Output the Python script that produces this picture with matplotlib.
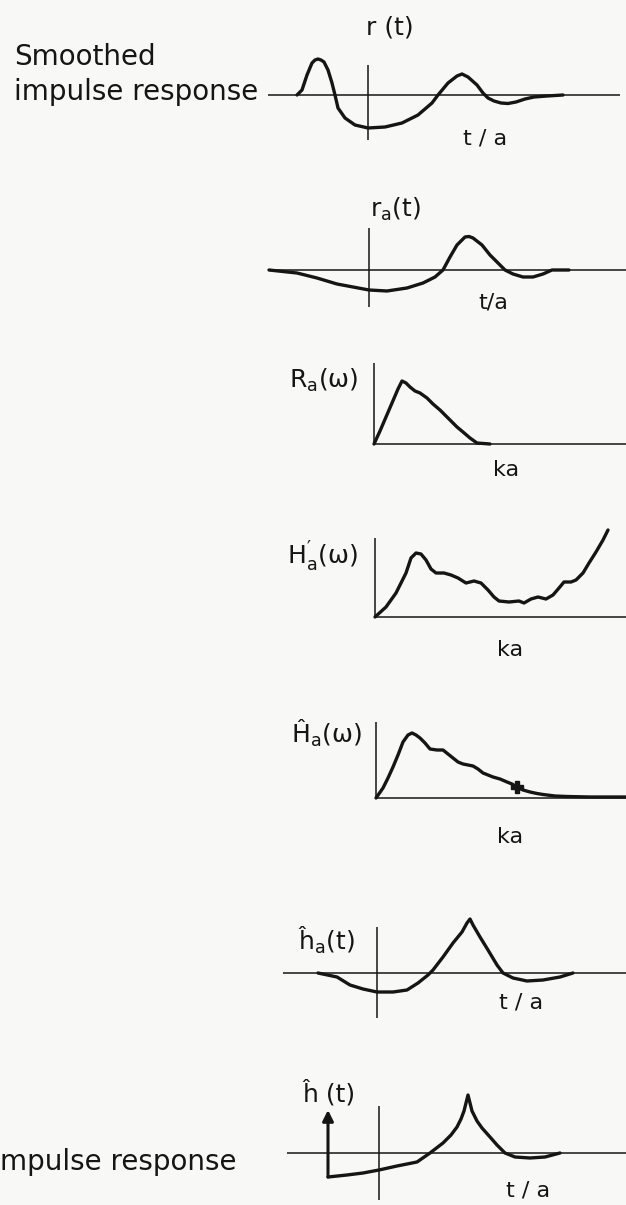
import matplotlib.pyplot as plt

plt.rcParams['font.family'] = ['DejaVu Sans']
plt.rcParams['mathtext.default'] = 'regular'

W, H = 626, 1205
PX = 10  # pixels per data unit on every panel
INK = '#151515'

# smoothed impulse response r(t)
R_T = [-7.1, -6.6, -6.1, -5.6, -5.3, -5.0, -4.7, -4.4, -4.0, -3.6, -3.3, -3.0,
       -2.3, -1.3, 0, 1.7, 3.4, 5.0, 6.4, 7.0, 8.0, 8.9, 9.4, 10.0, 10.9, 11.5,
       12.0, 12.6, 13.3, 14.0, 14.8, 15.7, 16.6, 17.9, 19.5]
R_VAL = [0, 0.5, 2.0, 3.2, 3.5, 3.6, 3.5, 3.3, 2.5, 1.2, 0, -1.3, -2.3, -3.0,
         -3.3, -3.2, -2.8, -2.0, -0.8, 0, 1.2, 1.9, 2.1, 1.8, 1.0, 0.2, -0.3,
         -0.6, -0.8, -0.85, -0.7, -0.4, -0.2, -0.1, 0]

# r_a(t)
RA_T = [-10.0, -7.2, -5.2, -3.2, -1.6, 0, 1.8, 3.8, 5.4, 6.6, 7.4, 8.1, 8.8,
        9.6, 10.0, 10.4, 11.3, 12.1, 12.9, 13.6, 14.4, 15.4, 16.4, 17.4, 18.3,
        20.0]
RA_VAL = [0, -0.3, -0.8, -1.4, -1.7, -2.0, -2.1, -1.8, -1.3, -0.7, 0, 1.3, 2.5,
          3.3, 3.35, 3.2, 2.5, 1.5, 0.7, 0, -0.4, -0.7, -0.7, -0.4, 0, 0]

# R_a(w) against ka
RW_K = [0, 0.6, 1.2, 1.8, 2.4, 2.8, 3.2, 3.6, 4.1, 4.6, 5.3, 5.9, 6.6, 7.2,
        7.8, 8.3, 8.9, 9.6, 10.3, 11.6]
RW_VAL = [0, 1.3, 2.7, 4.1, 5.5, 6.3, 6.1, 5.7, 5.3, 5.1, 4.6, 4.0, 3.4, 2.8,
          2.2, 1.7, 1.2, 0.6, 0.1, 0]

# H'_a(w)
HP_K = [0, 1.1, 2.1, 3.1, 3.6, 4.1, 4.6, 5.1, 5.6, 6.1, 6.9, 7.6, 8.3, 9.1,
        9.9, 10.6, 11.3, 11.9, 12.4, 13.4, 14.4, 14.9, 15.6, 16.3, 17.1, 17.8,
        18.4, 18.9, 19.6, 20.1, 20.8, 21.4, 22.1, 22.8, 23.3]
HP_VAL = [0, 1.0, 2.4, 4.4, 5.9, 6.4, 6.3, 5.7, 4.8, 4.4, 4.4, 4.2, 3.9, 3.4,
          3.6, 3.4, 2.7, 2.0, 1.6, 1.5, 1.6, 1.4, 1.8, 2.0, 1.8, 2.2, 2.9, 3.5,
          3.5, 3.7, 4.4, 5.4, 6.5, 7.7, 8.7]

# H^_a(w), with the marked point on its tail
HH_K = [0, 0.7, 1.2, 1.7, 2.2, 2.7, 3.2, 3.6, 4.0, 4.4, 4.9, 5.4, 6.1, 6.7,
        7.2, 7.7, 8.2, 8.7, 9.2, 9.7, 10.2, 10.7, 11.2, 11.7, 12.4, 13.1, 13.6,
        14.1, 14.7, 15.4, 16.1, 16.7, 17.9, 19.1, 21.4, 25.0]
HH_VAL = [0, 1.0, 2.0, 3.1, 4.3, 5.6, 6.3, 6.5, 6.3, 6.0, 5.5, 4.9, 4.8, 4.8,
          4.4, 4.0, 3.6, 3.4, 3.3, 3.2, 2.9, 2.5, 2.3, 2.1, 1.9, 1.6, 1.4, 1.1,
          0.8, 0.6, 0.45, 0.35, 0.2, 0.15, 0.1, 0.1]
HH_MARK = (14.1, 1.1)

# h^_a(t)
HA_T = [-5.9, -4.0, -2.7, -1.4, 0, 1.6, 3.0, 4.1, 5.1, 5.6, 6.6, 7.6, 8.5, 9.0,
        9.3, 9.6, 10.3, 11.1, 12.0, 12.6, 13.6, 15.0, 16.6, 18.3, 19.6]
HA_VAL = [0, -0.4, -1.2, -1.6, -1.9, -1.9, -1.7, -1.0, -0.2, 0.3, 1.6, 3.0, 4.1,
          5.0, 5.4, 4.8, 3.6, 2.3, 0.8, 0, -0.5, -0.8, -0.7, -0.4, 0]

# h^(t): impulse at the start, then the tail
H_T = [-5.1, -3.2, -1.6, 0, 1.8, 3.8, 5.1, 6.4, 7.2, 7.8, 8.2, 8.5, 8.7, 8.9,
       9.3, 9.8, 10.3, 11.1, 11.8, 12.6, 13.6, 15.1, 16.6, 18.1]
H_VAL = [-2.4, -2.2, -2.0, -1.7, -1.3, -0.9, 0, 1.0, 1.8, 2.6, 3.4, 4.2, 5.0,
         5.8, 4.2, 3.2, 2.5, 1.6, 0.8, 0, -0.4, -0.5, -0.4, 0]
IMPULSE_T = -5.1
IMPULSE_TOP = 4.3


def panel(fig, origin, top, bottom):
    """Axes strip spanning the figure width, origin placed at a pixel spot."""
    ox, oy = origin
    ax = fig.add_axes([0, 1 - bottom / H, 1, (bottom - top) / H])
    ax.set_xlim(-ox / PX, (W - ox) / PX)
    ax.set_ylim((oy - bottom) / PX, (oy - top) / PX)
    ax.axis('off')
    return ax


def frame(ax, x0, x1, y0, y1):
    ax.hlines(0, x0, x1, color=INK, lw=1.1)
    ax.vlines(0, y0, y1, color=INK, lw=1.1)


def curve(ax, x, y):
    ax.plot(x, y, color=INK, lw=2.4, solid_joinstyle='round',
            solid_capstyle='round')


fig = plt.figure(figsize=(W / 100, H / 100), dpi=100, facecolor='#f8f8f7')
lab = dict(fontsize=18, color=INK)
small = dict(fontsize=16, color=INK)

fig.text(14 / W, 1 - 65 / H, 'Smoothed', fontsize=20, color=INK)
fig.text(14 / W, 1 - 100 / H, 'impulse response', fontsize=20, color=INK)
fig.text(0, 1 - 1170 / H, 'mpulse response', fontsize=20, color=INK)

ax = panel(fig, (368, 95), 0, 160)
frame(ax, -10.0, 25.2, -4.5, 3.0)
curve(ax, R_T, R_VAL)
ax.text(2.2, 6.8, 'r (t)', ha='center', va='center', **lab)
ax.text(11.7, -4.4, 't / a', ha='center', va='center', **small)

ax = panel(fig, (369, 270), 160, 330)
frame(ax, -9.9, 25.7, -3.7, 4.2)
curve(ax, RA_T, RA_VAL)
ax.text(2.7, 6.1, 'r$_a$(t)', ha='center', va='center', **lab)
ax.text(12.4, -3.3, 't/a', ha='center', va='center', **small)

ax = panel(fig, (374, 444), 330, 490)
frame(ax, 0, 25.2, 0, 8.1)
curve(ax, RW_K, RW_VAL)
ax.text(-1.6, 6.4, 'R$_a$(ω)', ha='right', va='center', **lab)
ax.text(13.2, -2.6, 'ka', ha='center', va='center', **small)

ax = panel(fig, (375, 617), 490, 670)
frame(ax, 0, 25.1, 0, 7.9)
curve(ax, HP_K, HP_VAL)
ax.text(-1.7, 6.0, r'H$_a^{\prime}$(ω)', ha='right', va='center', **lab)
ax.text(13.5, -3.3, 'ka', ha='center', va='center', **small)

ax = panel(fig, (376, 798), 670, 860)
frame(ax, 0, 25.0, 0, 7.6)
curve(ax, HH_K, HH_VAL)
ax.plot(*HH_MARK, marker='P', ms=8, color=INK)
ax.text(-1.4, 6.5, 'Ĥ$_a$(ω)', ha='right', va='center', **lab)
ax.text(13.4, -3.9, 'ka', ha='center', va='center', **small)

ax = panel(fig, (377, 973), 860, 1035)
frame(ax, -9.4, 24.9, -4.5, 4.6)
curve(ax, HA_T, HA_VAL)
ax.text(-2.2, 3.3, 'ĥ$_a$(t)', ha='right', va='center', **lab)
ax.text(14.4, -2.9, 't / a', ha='center', va='center', **small)

ax = panel(fig, (379, 1153), 1035, 1205)
frame(ax, -9.2, 24.7, -4.7, 4.7)
curve(ax, H_T, H_VAL)
ax.annotate('', xy=(IMPULSE_T, IMPULSE_TOP), xytext=(IMPULSE_T, H_VAL[0]),
            arrowprops=dict(arrowstyle='-|>', color=INK, lw=2.2,
                            mutation_scale=16, shrinkA=0, shrinkB=0))
ax.text(-5.0, 6.0, 'ĥ (t)', ha='center', va='center', **lab)
ax.text(14.9, -3.7, 't / a', ha='center', va='center', **small)

fig.savefig('out.png', dpi=100, facecolor=fig.get_facecolor())
